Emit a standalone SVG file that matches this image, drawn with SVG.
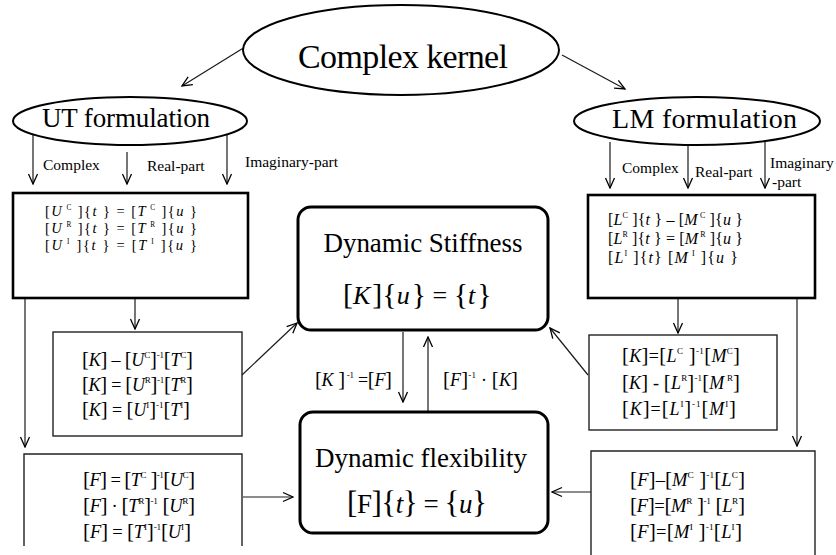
<svg xmlns="http://www.w3.org/2000/svg" width="836" height="555" viewBox="0 0 836 555">
<style>
text{font-family:"Liberation Serif","Times New Roman",serif;fill:#000}
.v{font-style:italic}
.b{font-size:1.15em}
.sp{font-size:0.5em}
.ln{stroke:#1a1a1a;stroke-width:1.2;fill:none}
.ell{fill:#fff;stroke:#000;stroke-width:2}
.thick{fill:#fff;stroke:#000;stroke-width:2.6}
.thin{fill:#fff;stroke:#222;stroke-width:1.4}
.rbox{fill:#fff;stroke:#000;stroke-width:3}
.lbl{font-size:15.5px}
</style>
<defs>
<marker id="ah" markerUnits="userSpaceOnUse" markerWidth="12" markerHeight="12" viewBox="-1 -6 12 12" refX="10" refY="0" orient="auto">
<path d="M0,-4.5 L10,0 L0,4.5" fill="none" stroke="#000" stroke-width="1.3"/>
</marker>
</defs>

<g id="connectors">
<line class="ln" x1="245" y1="47" x2="182" y2="86" marker-end="url(#ah)"/>
<line class="ln" x1="562" y1="55" x2="625" y2="89" marker-end="url(#ah)"/>
<line class="ln" x1="33" y1="133" x2="33" y2="184" marker-end="url(#ah)"/>
<line class="ln" x1="127" y1="152" x2="127" y2="184" marker-end="url(#ah)" stroke-width="1.6"/>
<line class="ln" x1="227" y1="132" x2="227" y2="184" marker-end="url(#ah)"/>
<line class="ln" x1="610" y1="142" x2="610" y2="188" marker-end="url(#ah)"/>
<line class="ln" x1="688" y1="146" x2="688" y2="188" marker-end="url(#ah)"/>
<line class="ln" x1="765" y1="142" x2="765" y2="188" marker-end="url(#ah)" stroke="#666"/>
<line class="ln" x1="135" y1="298" x2="135" y2="329" marker-end="url(#ah)"/>
<line class="ln" x1="25" y1="298" x2="25" y2="447" marker-end="url(#ah)"/>
<line class="ln" x1="242" y1="375" x2="297" y2="323" marker-end="url(#ah)"/>
<line class="ln" x1="678" y1="298" x2="678" y2="333" marker-end="url(#ah)"/>
<line class="ln" x1="797" y1="298" x2="797" y2="446" marker-end="url(#ah)"/>
<line class="ln" x1="588" y1="375" x2="550" y2="328" marker-end="url(#ah)"/>
<line class="ln" x1="403" y1="332" x2="403" y2="402" marker-end="url(#ah)"/>
<line class="ln" x1="428" y1="412" x2="428" y2="337" marker-end="url(#ah)" stroke="#555"/>
<line class="ln" x1="243" y1="497" x2="293" y2="497" marker-end="url(#ah)"/>
<line class="ln" x1="591" y1="492" x2="552" y2="492" marker-end="url(#ah)" stroke="#555"/>
</g>

<g id="complex-kernel">
<ellipse class="ell" cx="401" cy="50" rx="158" ry="45"/>
<text x="403" y="68" font-size="34" text-anchor="middle" textLength="210" lengthAdjust="spacing">Complex kernel</text>
</g>

<g id="ut-formulation">
<ellipse class="ell" cx="130" cy="121" rx="117" ry="24"/>
<text x="42" y="127" font-size="27" textLength="168" lengthAdjust="spacing">UT formulation</text>
<text class="lbl" x="43" y="170">Complex</text>
<text class="lbl" x="147" y="171">Real-part</text>
<text class="lbl" x="245" y="167" textLength="93" lengthAdjust="spacing">Imaginary-part</text>
</g>

<g id="lm-formulation">
<ellipse class="ell" cx="697" cy="121" rx="123" ry="24"/>
<text x="612" y="128" font-size="28" textLength="185" lengthAdjust="spacing">LM formulation</text>
<text class="lbl" x="622" y="173">Complex</text>
<text class="lbl" x="695" y="177">Real-part</text>
<text class="lbl" x="770" y="168">Imaginary</text>
<text class="lbl" x="772" y="187">-part</text>
</g>

<g id="ut-equations">
<rect class="thick" x="13" y="193" width="235" height="105"/>
<text x="45" y="216" font-size="14.5" textLength="152" lengthAdjust="spacing">[<tspan class="v">U</tspan><tspan class="sp" dy="-6"> C</tspan><tspan dy="6"> ]{</tspan><tspan class="v">t</tspan> } = [<tspan class="v">T</tspan><tspan class="sp" dy="-6"> C</tspan><tspan dy="6"> ]{</tspan><tspan class="v">u</tspan> }</text>
<text x="45" y="233" font-size="14.5" textLength="152" lengthAdjust="spacing">[<tspan class="v">U</tspan><tspan class="sp" dy="-6"> R</tspan><tspan dy="6"> ]{</tspan><tspan class="v">t</tspan> } = [<tspan class="v">T</tspan><tspan class="sp" dy="-6"> R</tspan><tspan dy="6"> ]{</tspan><tspan class="v">u</tspan> }</text>
<text x="45" y="250" font-size="14.5" textLength="152" lengthAdjust="spacing">[<tspan class="v">U</tspan><tspan class="sp" dy="-6"> I</tspan><tspan dy="6"> ]{</tspan><tspan class="v">t</tspan> } = [<tspan class="v">T</tspan><tspan class="sp" dy="-6"> I</tspan><tspan dy="6"> ]{</tspan><tspan class="v">u</tspan> }</text>
</g>

<g id="lm-equations">
<rect class="thick" x="588" y="195" width="227" height="103"/>
<text x="608" y="225" font-size="16" textLength="135" lengthAdjust="spacing">[<tspan class="v">L</tspan><tspan class="sp" dy="-7">C</tspan><tspan dy="7"> ]{</tspan><tspan class="v">t</tspan> } – [<tspan class="v">M</tspan><tspan class="sp" dy="-7"> C</tspan><tspan dy="7"> ]{</tspan><tspan class="v">u</tspan> }</text>
<text x="608" y="244" font-size="16" textLength="135" lengthAdjust="spacing">[<tspan class="v">L</tspan><tspan class="sp" dy="-7">R</tspan><tspan dy="7"> ]{</tspan><tspan class="v">t</tspan> } = [<tspan class="v">M</tspan><tspan class="sp" dy="-7"> R</tspan><tspan dy="7"> ]{</tspan><tspan class="v">u</tspan> }</text>
<text x="608" y="263" font-size="16" textLength="130" lengthAdjust="spacing">[<tspan class="v">L</tspan><tspan class="sp" dy="-7">I</tspan><tspan dy="7"> ]{</tspan><tspan class="v">t</tspan>}    [<tspan class="v">M</tspan><tspan class="sp" dy="-7"> I</tspan><tspan dy="7"> ]{</tspan><tspan class="v">u</tspan> }</text>
</g>

<g id="ut-stiffness">
<rect class="thin" x="53" y="332" width="189" height="104"/>
<text x="82" y="366" font-size="18" textLength="111" lengthAdjust="spacing"><tspan class="b">[</tspan><tspan class="v">K</tspan><tspan class="b">]</tspan> – <tspan class="b">[</tspan><tspan class="v">U</tspan><tspan class="sp" dy="-8">C</tspan><tspan class="b" dy="8">]</tspan><tspan class="sp" dy="-8">-1</tspan><tspan class="b" dy="8">[</tspan><tspan class="v">T</tspan><tspan class="sp" dy="-8">C</tspan><tspan class="b" dy="8">]</tspan></text>
<text x="82" y="391" font-size="18" textLength="111" lengthAdjust="spacing"><tspan class="b">[</tspan><tspan class="v">K</tspan><tspan class="b">]</tspan> = <tspan class="b">[</tspan><tspan class="v">U</tspan><tspan class="sp" dy="-8">R</tspan><tspan class="b" dy="8">]</tspan><tspan class="sp" dy="-8">-1</tspan><tspan class="b" dy="8">[</tspan><tspan class="v">T</tspan><tspan class="sp" dy="-8">R</tspan><tspan class="b" dy="8">]</tspan></text>
<text x="82" y="416" font-size="18" textLength="108" lengthAdjust="spacing"><tspan class="b">[</tspan><tspan class="v">K</tspan><tspan class="b">]</tspan> = <tspan class="b">[</tspan><tspan class="v">U</tspan><tspan class="sp" dy="-8">I</tspan><tspan class="b" dy="8">]</tspan><tspan class="sp" dy="-8">-1</tspan><tspan class="b" dy="8">[</tspan><tspan class="v">T</tspan><tspan class="sp" dy="-8">I</tspan><tspan class="b" dy="8">]</tspan></text>
</g>

<g id="ut-flexibility">
<path class="thin" d="M24,546 V454 H242 V546"/>
<text x="83" y="486" font-size="18.5" textLength="112" lengthAdjust="spacing"><tspan class="b">[</tspan><tspan class="v">F</tspan><tspan class="b">]</tspan> = <tspan class="b">[</tspan><tspan class="v">T</tspan><tspan class="sp" dy="-8">C</tspan><tspan class="b" dy="8"> ]</tspan><tspan class="sp" dy="-8">-1</tspan><tspan class="b" dy="8">[</tspan><tspan class="v">U</tspan><tspan class="sp" dy="-8">C</tspan><tspan class="b" dy="8">]</tspan></text>
<text x="83" y="512" font-size="18.5" textLength="112" lengthAdjust="spacing"><tspan class="b">[</tspan><tspan class="v">F</tspan><tspan class="b">]</tspan> · <tspan class="b">[</tspan><tspan class="v">T</tspan><tspan class="sp" dy="-8">R</tspan><tspan class="b" dy="8">]</tspan><tspan class="sp" dy="-8">-1</tspan><tspan class="b" dy="8"> [</tspan><tspan class="v">U</tspan><tspan class="sp" dy="-8">R</tspan><tspan class="b" dy="8">]</tspan></text>
<text x="83" y="538" font-size="18.5" textLength="108" lengthAdjust="spacing"><tspan class="b">[</tspan><tspan class="v">F</tspan><tspan class="b">]</tspan> = <tspan class="b">[</tspan><tspan class="v">T</tspan><tspan class="sp" dy="-8">I</tspan><tspan class="b" dy="8">]</tspan><tspan class="sp" dy="-8">-1</tspan><tspan class="b" dy="8">[</tspan><tspan class="v">U</tspan><tspan class="sp" dy="-8">I</tspan><tspan class="b" dy="8">]</tspan></text>
</g>

<g id="lm-stiffness">
<rect class="thin" x="589" y="335" width="188" height="95"/>
<text x="622" y="362" font-size="18" textLength="118" lengthAdjust="spacing"><tspan class="b">[</tspan><tspan class="v">K</tspan><tspan class="b">]</tspan>=<tspan class="b">[</tspan><tspan class="v">L</tspan><tspan class="sp" dy="-8">C</tspan><tspan class="b" dy="8"> ]</tspan><tspan class="sp" dy="-8">-1</tspan><tspan class="b" dy="8">[</tspan><tspan class="v">M</tspan><tspan class="sp" dy="-8">C</tspan><tspan class="b" dy="8">]</tspan></text>
<text x="622" y="389" font-size="18" textLength="118" lengthAdjust="spacing"><tspan class="b">[</tspan><tspan class="v">K</tspan><tspan class="b">]</tspan> - <tspan class="b">[</tspan><tspan class="v">L</tspan><tspan class="sp" dy="-8">R</tspan><tspan class="b" dy="8">]</tspan><tspan class="sp" dy="-8">-1</tspan><tspan class="b" dy="8">[</tspan><tspan class="v">M</tspan><tspan class="sp" dy="-8"> R</tspan><tspan class="b" dy="8">]</tspan></text>
<text x="622" y="415" font-size="18" textLength="114" lengthAdjust="spacing"><tspan class="b">[</tspan><tspan class="v">K</tspan><tspan class="b">]</tspan>=<tspan class="b">[</tspan><tspan class="v">L</tspan><tspan class="sp" dy="-8">I</tspan><tspan class="b" dy="8">]</tspan><tspan class="sp" dy="-8">-1</tspan><tspan class="b" dy="8">[</tspan><tspan class="v">M</tspan><tspan class="sp" dy="-8">I</tspan><tspan class="b" dy="8">]</tspan></text>
</g>

<g id="lm-flexibility">
<path class="thin" d="M591,556 V451 H815 V556"/>
<text x="630" y="486" font-size="18.5" textLength="115" lengthAdjust="spacing"><tspan class="b">[</tspan><tspan class="v">F</tspan><tspan class="b">]</tspan>–<tspan class="b">[</tspan><tspan class="v">M</tspan><tspan class="sp" dy="-8">C</tspan><tspan class="b" dy="8"> ]</tspan><tspan class="sp" dy="-8">-1</tspan><tspan class="b" dy="8">[</tspan><tspan class="v">L</tspan><tspan class="sp" dy="-8">C</tspan><tspan class="b" dy="8">]</tspan></text>
<text x="630" y="512" font-size="18.5" textLength="115" lengthAdjust="spacing"><tspan class="b">[</tspan><tspan class="v">F</tspan><tspan class="b">]</tspan>=<tspan class="b">[</tspan><tspan class="v">M</tspan><tspan class="sp" dy="-8">R</tspan><tspan class="b" dy="8"> ]</tspan><tspan class="sp" dy="-8">-1</tspan><tspan class="b" dy="8"> [</tspan><tspan class="v">L</tspan><tspan class="sp" dy="-8">R</tspan><tspan class="b" dy="8">]</tspan></text>
<text x="630" y="538" font-size="18.5" textLength="112" lengthAdjust="spacing"><tspan class="b">[</tspan><tspan class="v">F</tspan><tspan class="b">]</tspan>=<tspan class="b">[</tspan><tspan class="v">M</tspan><tspan class="sp" dy="-8">I</tspan><tspan class="b" dy="8"> ]</tspan><tspan class="sp" dy="-8">-1</tspan><tspan class="b" dy="8">[</tspan><tspan class="v">L</tspan><tspan class="sp" dy="-8">I</tspan><tspan class="b" dy="8">]</tspan></text>
</g>

<g id="dynamic-stiffness">
<rect class="rbox" x="298" y="207" width="250" height="123" rx="13" ry="13"/>
<text x="423" y="252" font-size="27" text-anchor="middle" textLength="199" lengthAdjust="spacing">Dynamic Stiffness</text>
<text x="343" y="304" font-size="26"><tspan class="b">[</tspan><tspan class="v">K</tspan><tspan class="b" dx="2">]{</tspan><tspan class="v">u</tspan><tspan class="b" dx="2">}</tspan> = <tspan class="b">{</tspan><tspan class="v">t</tspan><tspan class="b" dx="2">}</tspan></text>
</g>

<g id="inverse-labels">
<text x="315" y="386" font-size="18" textLength="77" lengthAdjust="spacing"><tspan class="b">[</tspan><tspan class="v">K</tspan><tspan class="b"> ]</tspan><tspan class="sp" dy="-8"> -1</tspan><tspan dy="8"> =</tspan><tspan class="b">[</tspan><tspan class="v">F</tspan><tspan class="b">]</tspan></text>
<text x="443" y="386" font-size="18" textLength="75" lengthAdjust="spacing"><tspan class="b">[</tspan><tspan class="v">F</tspan><tspan class="b">]</tspan><tspan class="sp" dy="-8">-1</tspan><tspan dy="8"> · </tspan><tspan class="b">[</tspan><tspan class="v">K</tspan><tspan class="b">]</tspan></text>
</g>

<g id="dynamic-flexibility">
<rect class="rbox" x="300" y="412" width="248" height="121" rx="13" ry="13"/>
<text x="421" y="467" font-size="27" text-anchor="middle" textLength="212" lengthAdjust="spacing">Dynamic flexibility</text>
<text x="347" y="513" font-size="27" textLength="140" lengthAdjust="spacing"><tspan class="b">[</tspan>F<tspan class="b">]{</tspan><tspan class="v">t</tspan><tspan class="b">}</tspan> = <tspan class="b">{</tspan><tspan class="v">u</tspan><tspan class="b">}</tspan></text>
</g>
</svg>
